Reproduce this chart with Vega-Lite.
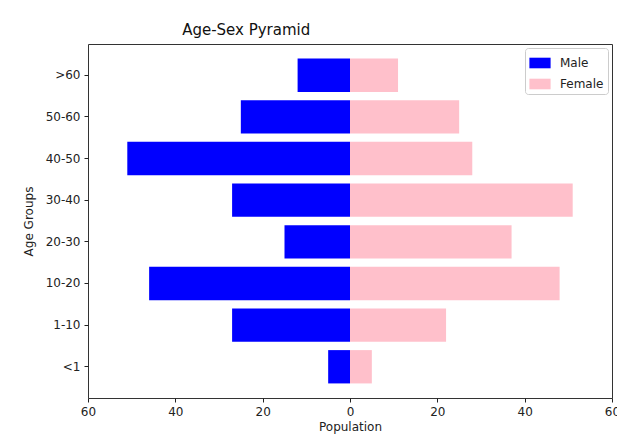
{
  "$schema": "https://vega.github.io/schema/vega-lite/v6.json",
  "width": 524,
  "height": 354,
  "autosize": {"type": "none"},
  "padding": {"left": 88, "top": 44, "right": 5, "bottom": 44},
  "background": "white",
  "title": {"text": "Age-Sex Pyramid", "anchor": "start", "dx": 160, "fontSize": 15, "fontWeight": "normal", "font": "DejaVu Sans", "color": "#111", "offset": 6},
  "data": {"values": [
    {"age": ">60", "sex": "Male", "value": -12},
    {"age": "50-60", "sex": "Male", "value": -25},
    {"age": "40-50", "sex": "Male", "value": -51},
    {"age": "30-40", "sex": "Male", "value": -27},
    {"age": "20-30", "sex": "Male", "value": -15},
    {"age": "10-20", "sex": "Male", "value": -46},
    {"age": "1-10", "sex": "Male", "value": -27},
    {"age": "<1", "sex": "Male", "value": -5},
    {"age": ">60", "sex": "Female", "value": 11},
    {"age": "50-60", "sex": "Female", "value": 25},
    {"age": "40-50", "sex": "Female", "value": 28},
    {"age": "30-40", "sex": "Female", "value": 51},
    {"age": "20-30", "sex": "Female", "value": 37},
    {"age": "10-20", "sex": "Female", "value": 48},
    {"age": "1-10", "sex": "Female", "value": 22},
    {"age": "<1", "sex": "Female", "value": 5}
  ]},
  "mark": {"type": "bar"},
  "encoding": {
    "y": {
      "field": "age", "type": "nominal",
      "sort": [">60", "50-60", "40-50", "30-40", "20-30", "10-20", "1-10", "<1"],
      "scale": {"paddingInner": 0.2, "paddingOuter": 0.35},
      "axis": {"title": "Age Groups", "titleFont": "DejaVu Sans", "titleFontSize": 12, "titleFontWeight": "normal", "titleColor": "#222", "titlePadding": 10, "labelFont": "DejaVu Sans", "labelFontSize": 12, "labelColor": "#222", "tickColor": "#222", "tickSize": 4, "domain": false, "labelPadding": 4}
    },
    "x": {
      "field": "value", "type": "quantitative",
      "scale": {"domain": [-60, 60], "nice": false},
      "axis": {"title": "Population", "values": [-60, -40, -20, 0, 20, 40, 60], "labelExpr": "abs(datum.value)", "titleFont": "DejaVu Sans", "titleFontSize": 12, "titleFontWeight": "normal", "titleColor": "#222", "titlePadding": 4, "labelFont": "DejaVu Sans", "labelFontSize": 12, "labelColor": "#222", "tickColor": "#222", "tickSize": 4, "grid": false, "domain": false, "labelPadding": 4, "labelFlush": false}
    },
    "color": {
      "field": "sex", "type": "nominal",
      "scale": {"domain": ["Male", "Female"], "range": ["#0000ff", "#ffc0cb"]},
      "legend": {"title": null, "orient": "top-right", "offset": 4, "fillColor": "white", "strokeColor": "#ccc", "padding": 4, "cornerRadius": 3, "labelFont": "DejaVu Sans", "labelFontSize": 12, "labelColor": "#222", "labelOffset": 9, "symbolType": "M-1,-0.5H1V0.5H-1Z", "symbolSize": 450, "symbolStrokeWidth": 0, "rowPadding": 4, "symbolOpacity": 1}
    }
  },
  "config": {"view": {"stroke": "#333", "strokeWidth": 1}}
}
